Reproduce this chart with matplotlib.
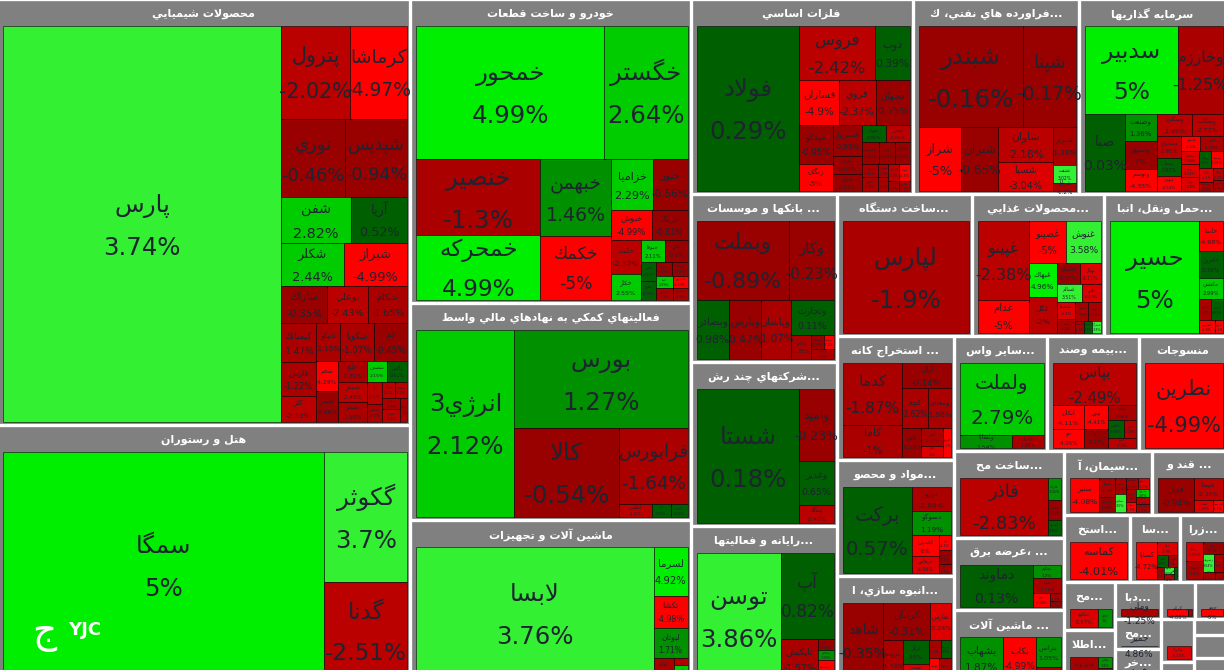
import matplotlib
matplotlib.use("Agg")
import matplotlib.pyplot as plt
from matplotlib.patches import Rectangle

plt.rcParams['font.family'] = ['DejaVu Sans']

# ---------- data: one set of small lists per sector ----------
chem_names = ["پارس","پترول","كرماشا","نوري","شپديس","شفن","آريا","شكلر","شيراز","شاراك","بوعلي","شكام","كيمياتك","فارس","كلر","نابيكو","شكوپا","جم","شجم","شيندر","خليج","شصدر","شبندر","شصدف","پاكس","آبا","شدوس","شرنگ","شلعاب","شكبير","شپاس","شگل"]
chem_pct = [3.74,-2.02,-4.97,-0.46,-0.94,2.82,0.52,2.44,-4.99,-0.35,-2.43,-1.65,-1.47,-1.22,-2.39,-1.15,-1.07,-0.45,-4.29,-0.46,-1.81,-2.48,-1.93,2.15,0.61,-2.1,-1.2,-2.7,-2.2,-1.5,-2.4,-1.1]
chem_size = [110484,6440,5405,4992,4836,3290,2632,2650,2700,1748,1520,1482,1365,1190,910,910,1280,1280,672,672,616,588,588,414,437,340,289,200,200,204,230,170]

auto_names = ["خمحور","خگستر","خنصير","خمحركه","خبهمن","خكمك","خزاميا","ختور","خبوش","خرينگ","خلنت","خكار","خنوفا","خزر","خفنر","خمهر","خوسا","خريخت","خبنا","خديزل","خموتور","خشرق"]
auto_pct = [4.99,2.64,-1.3,4.99,1.46,-5,2.29,-0.56,-4.99,-0.81,-2.37,2.55,2.11,-0.9,0.93,0.08,-0.57,-0.81,2.99,-1.1,-4.23,-1.3]
auto_size = [25000,11040,9424,8060,5467,4544,2091,1785,1200,1080,986,754,528,506,285,285,224,224,208,208,176,176]

fin_names = ["انرژي3","بورس","كالا","فرابورس","اطلس","آتيه","امين"]
fin_pct = [2.12,1.27,-0.54,-1.64,-2.6,0.28,0.61]
fin_size = [18326,16954,9345,5168,416,247,221]

mach_names = ["لابسا","لسرما","تكشا","لبوتان","لخانه","لكما","لتور"]
mach_pct = [3.76,4.92,-4.98,1.71,-1.64,-2.1,2.5]
mach_size = [31521,1666,1122,1020,420,98,196]

hotel_names = ["سمگا","گكوثر","گدنا"]
hotel_pct = [5,3.7,-2.51]
hotel_size = [73416,10873,8051]

metal_names = ["فولاد","فروس","ذوب","فسازان","فروي","فجهان","ميدكو","زنگان","فسبزوار","كوير","فنوال","فلوله","فخاس","فاسمين","فايرا","فرآور","فباهنر","فالوم","هرمز","فسرب","فنرژي","فوكا","فگستر","فلامي"]
metal_pct = [0.29,-2.42,0.39,-4.9,-2.37,-0.75,-0.95,-5,-0.93,-0.84,-0.02,0.46,-2.64,-0.06,-0.58,-0.86,-1.42,-1.7,-1.2,-1.1,-2.1,-4.4,-1.5,-1.3]
metal_size = [16830,4050,1890,1716,1628,1496,1287,891,899,522,493,408,408,374,352,330,225,225,135,135,180,180,108,108]

oil_names = ["شبندر","شپنا","شراز","شتران","شاوان","شسپا","شبريز","شنفت","شرانل"]
oil_pct = [-0.16,-0.17,-5,-0.65,-2.18,-3.04,-1.38,3.02,-1.2]
oil_size = [10504,5353,2688,2368,1925,1595,874,414,184]

inv_names = ["سدبير","وخارزم","صبا","وصنعت","واسپهر","وتوسم","وسكرد","وسكاب","وسخراج","وصنا","وبهمن","وسپهر","ونوين","ومعادن","وپويا","واتي","ونيكي","وسينا","وآذر","وساپا","وملل","وگستر"]
inv_pct = [5,-1.25,0.03,1.36,0,-4.35,-2.95,-2.72,-2.91,0.82,-4.51,-4.2,-1.93,-3.49,-3.42,-3.58,0.1,-4.01,-3.2,-1.6,-2.4,-1.9]
inv_size = [7998,3870,3002,868,868,713,756,672,504,420,357,294,340,238,238,247,195,200,180,130,110,100]

bank_names = ["وبملت","وكار","وبصادر","وپارس","وپاسار","وتجارت","وخاور","وسالت","وسينا","وآيند"]
bank_pct = [-0.89,-0.23,0.98,-0.47,-1.07,0.11,-1.35,-0.09,-4.7,-1.2]
bank_size = [7268,3476,1888,1888,1770,1470,480,168,140,220]

dast_names = ["لپارس"]
dast_pct = [-1.9]
dast_size = [13888]

food_names = ["غپينو","غدام","غصينو","غنوش","غبهاك","غگل","غشوكو","نهبال","غسالم","غالبر","غشصفا","غپاك","غمينو","غويتا","غدشت","غبشهر","غمارگ"]
food_pct = [-2.38,-5,-5,3.58,4.96,-2,-0.02,-3.11,3.51,-3.47,-3.1,-1.2,-1.18,-1.12,-1.3,0.4,3.3]
food_size = [3822,1617,1482,1365,910,936,480,440,416,320,304,256,225,225,100,100,100]

haml_names = ["حسير","حاسا","حافرين","حكشتي","حپترو","حتايد","حفارس","حريل"]
haml_pct = [5,-4.98,0.36,2.99,-1.1,0.87,-4.8,-4.2]
haml_size = [9879,720,624,504,252,252,200,100]

sher_names = ["شستا","واميد","وغدير","ومالك"]
sher_pct = [0.18,-0.23,0.65,-2.49]
sher_size = [13668,2448,1496,612]

ray_names = ["توسن","آپ","تاپكيش","رتاب","مفاخر","سيستم"]
ray_pct = [3.86,0.82,-1.57,-0.96,1.99,-4.1]
ray_size = [10584,4472,1440,176,160,304]

ext_names = ["كدما","كاما","اپال","كچاد","ومعادن","كاهي","كنور","كگل","كروي"]
ext_pct = [-1.87,-1,-0.14,-1.62,-1.96,-0.19,-1.37,-3,-4.2]
ext_size = [3658,1888,1200,1000,920,551,378,231,232]

mav_names = ["بركت","درزو","دسوكو","كاسپين","درهاوي","دلر","ديران","دعبيد"]
mav_pct = [0.57,-1.84,1.19,-5,-3.06,-4.1,-0.9,-1.5]
mav_size = [5848,936,936,567,459,165,165,99]

anb_names = ["شاهد","كرمان","ثفارس","ثروت","ثران","نهضت","ثاباد","ثنوسا","ثبهساز","ثالوند"]
anb_pct = [-0.35,-0.31,-3.24,-1.16,0.5,-3.08,-1.1,0.6,-4.2,-1.2]
anb_size = [2812,1617,693,696,551,352,192,156,208,220]

say_names = ["ولملت","ولساپا","وايران"]
say_pct = [2.79,1.54,-1.64]
say_size = [6048,676,416]

bim_names = ["بپاس","انكان","بنو","ودي","دانا","ملت","حكمت","البرز","آسيا"]
bim_pct = [-2.49,-4.11,-4.95,-4.41,-0.17,-1.66,0.98,-2.04,-2.2]
bim_size = [3486,744,589,576,456,408,288,228,272]

man_names = ["نطرين"]
man_pct = [-4.99]
man_size = [6630]

sak_names = ["فاذر","فاراك","فالاس","فساوه"]
sak_pct = [-2.83,1.06,-0.32,0.98]
sak_size = [5016,286,260,195]

arz_names = ["دماوند","بجكيم","بمپنا","بنيرو","بكام","بالاس"]
arz_pct = [0.13,1.2,-1.11,-4.08,-1.2,-0.9]
arz_size = [2952,350,375,224,90,60]

ma2_names = ["بشهاب","بكاب","بترانس","بسويچ"]
ma2_pct = [1.87,-4.99,1.05,-1]
ma2_size = [1849,1419,775,300]

sim_names = ["سنير","سخوز","سشمال","سفار","سكرد","سهگمت","سيلام","سدور","سقاين","سبزوا","ساروم","سمازن"]
sim_pct = [-4.08,-1.17,-0.96,-1.2,3.5,-1.3,-3.2,-1.4,-4.2,2.6,-2.1,-1.7]
sim_size = [918,285,225,168,182,126,120,130,100,90,90,90]

qan_names = ["قجار","قنيشا","قشكر","قلرست"]
qan_pct = [-0.94,-2.26,-3.84,-4.1]
qan_size = [1224,638,228,120]

est_names = ["كماسه"]
est_pct = [-4.01]
est_size = [2035]

saa_names = ["كساپا","كنگا","كفرا","كهمدا","كرازي","كلوند","كسرا","كبافق"]
saa_pct = [-4.72,-3.9,0.9,-1,-1,3.5,-2,0.5]
saa_size = [740,231,121,110,70,63,49,35]

zer_names = ["زشام","زميدا","زبينا","زشريف","زپارس","زفجر","زكشت"]
zer_pct = [-3.63,-1.9,-0.9,3.64,-1,-1.2,-1.5]
zer_size = [323,306,240,200,160,90,60]

moh_names = ["چكاوه","چكاو"]
moh_pct = [-3.67,1]
moh_size = [540,280]

eta_names = ["هاي وب","مخابر","اتكام"]
eta_pct = [-1.26,1.9,-1]
eta_size = [650,160,160]

dab_names = ["وملي"]
dab_pct = [-1.25]
dab_size = [216]

mo2_names = ["جمير"]
mo2_pct = [4.86]
mo2_size = [40]

kha_names = ["خريد"]
kha_pct = [-2]
kha_size = [30]

kar_names = ["كرام","كرمت"]
kar_pct = [-4.88,-1]
kar_size = [130,20]

haj_names = ["حجر"]
haj_pct = [-5]
haj_size = [165]

mad_names = ["ماديرا"]
mad_pct = [-3.23]
mad_size = [120]

saz_names = ["ساروج"]
saz_pct = [-2]
saz_size = [10]

emp_names = []
emp_pct = []
emp_size = []

sector_titles = ["محصولات شيميايي","هتل و رستوران","خودرو و ساخت قطعات","فعاليتهاي كمكي به نهادهاي مالي واسط","ماشين آلات و تجهيزات",
 "فلزات اساسي","...فراورده هاي نفتي، ك","سرمايه گذاريها","... بانكها و موسسات","...شركتهاي چند رش","...رايانه و فعاليتها",
 "...ساخت دستگاه","...محصولات غذايي","...حمل ونقل، انبا","... استخراج كانه","...مواد و محصو","...انبوه سازي، ا",
 "...ساير واس","...بيمه وصند","منسوجات","...ساخت مح","... ،عرضه برق","... ماشين آلات","...سيمان، آ","... قند و",
 "...استخ","...سا","...زرا","...مح","...اطلا","...دبا","...مح","...خر","","","","...سا","","",""]
sector_sizes = [175938,106141,85120,60760,45360,43290,32370,28665,24528,23944,22776,19170,18744,17324,14508,13572,12402,
 10695,10580,10005,9570,7920,7920,5632,4736,4422,3350,3082,2448,2652,1702,1380,1518,1250,1152,1420,640,512,768,768]
sector_names = [chem_names,hotel_names,auto_names,fin_names,mach_names,metal_names,oil_names,inv_names,bank_names,sher_names,ray_names,
 dast_names,food_names,haml_names,ext_names,mav_names,anb_names,say_names,bim_names,man_names,sak_names,arz_names,ma2_names,sim_names,qan_names,
 est_names,saa_names,zer_names,moh_names,eta_names,dab_names,mo2_names,kha_names,kar_names,haj_names,mad_names,saz_names,emp_names,emp_names,emp_names]
sector_pcts = [chem_pct,hotel_pct,auto_pct,fin_pct,mach_pct,metal_pct,oil_pct,inv_pct,bank_pct,sher_pct,ray_pct,
 dast_pct,food_pct,haml_pct,ext_pct,mav_pct,anb_pct,say_pct,bim_pct,man_pct,sak_pct,arz_pct,ma2_pct,sim_pct,qan_pct,
 est_pct,saa_pct,zer_pct,moh_pct,eta_pct,dab_pct,mo2_pct,kha_pct,kar_pct,haj_pct,mad_pct,saz_pct,emp_pct,emp_pct,emp_pct]
sector_vals = [chem_size,hotel_size,auto_size,fin_size,mach_size,metal_size,oil_size,inv_size,bank_size,sher_size,ray_size,
 dast_size,food_size,haml_size,ext_size,mav_size,anb_size,say_size,bim_size,man_size,sak_size,arz_size,ma2_size,sim_size,qan_size,
 est_size,saa_size,zer_size,moh_size,eta_size,dab_size,mo2_size,kha_size,kar_size,haj_size,mad_size,saz_size,emp_size,emp_size,emp_size]

# ---------- Arabic shaping (matplotlib has no text shaper) ----------
FORMS = {'ا':(0xFE8D,0xFE8E),'آ':(0xFE81,0xFE82),'أ':(0xFE83,0xFE84),'د':(0xFEA9,0xFEAA),'ذ':(0xFEAB,0xFEAC),'ر':(0xFEAD,0xFEAE),
 'ز':(0xFEAF,0xFEB0),'ژ':(0xFB8A,0xFB8B),'و':(0xFEED,0xFEEE),'ة':(0xFE93,0xFE94)}
FOUR = {'ب':0xFE8F,'پ':0xFB56,'ت':0xFE95,'ث':0xFE99,'ج':0xFE9D,'چ':0xFB7A,'ح':0xFEA1,'خ':0xFEA5,'س':0xFEB1,'ش':0xFEB5,'ص':0xFEB9,
 'ض':0xFEBD,'ط':0xFEC1,'ظ':0xFEC5,'ع':0xFEC9,'غ':0xFECD,'ف':0xFED1,'ق':0xFED5,'ك':0xFED9,'ک':0xFB8E,'گ':0xFB92,'ل':0xFEDD,'م':0xFEE1,
 'ن':0xFEE5,'ه':0xFEE9,'ي':0xFEF1,'ی':0xFBFC,'ئ':0xFE89}

def shape(s):
    out = []
    i = 0
    n = len(s)
    prev_joins = False
    while i < n:
        c = s[i]
        nxt = s[i + 1] if i + 1 < n else ''
        if c == 'ل' and nxt in 'اآ' and nxt:
            base = 0xFEFB if nxt == 'ا' else 0xFEF5
            out.append(chr(base + (1 if prev_joins else 0)))
            prev_joins = False
            i += 2
            continue
        if c in FOUR:
            next_ok = nxt in FOUR or nxt in FORMS
            b = FOUR[c]
            code = b + (3 if prev_joins and next_ok else 1 if prev_joins else 2 if next_ok else 0)
            out.append(chr(code))
            prev_joins = next_ok
        elif c in FORMS:
            out.append(chr(FORMS[c][1 if prev_joins else 0]))
            prev_joins = False
        else:
            out.append(c)
            prev_joins = False
        i += 1
    return ''.join(reversed(out))

# ---------- squarified layout ----------
def worst(row, side):
    s = sum(row)
    return max(max(side * side * r / (s * s), s * s / (side * side * r)) for r in row)

def squarify(vals, x, y, w, h):
    rects = []
    total = sum(vals)
    if total <= 0 or w <= 0 or h <= 0:
        return [(x, y, 0, 0) for _ in vals]
    k = w * h / total
    areas = [v * k for v in vals]
    i = 0
    while i < len(areas):
        side = min(w, h)
        row = [areas[i]]
        j = i + 1
        while j < len(areas) and worst(row + [areas[j]], side) <= worst(row, side):
            row.append(areas[j])
            j += 1
        s = sum(row)
        if w < h:            # row across the top
            t = s / w
            cx = x
            for r in row:
                rects.append((cx, y, r / t, t))
                cx += r / t
            y += t
            h -= t
        else:                # column down the left
            t = s / h
            cy = y
            for r in row:
                rects.append((x, cy, t, r / t))
                cy += r / t
            x += t
            w -= t
        i = j
    return rects

def colour(p):
    if p >= 4: return '#00EE00'
    if p >= 3: return '#33F033'
    if p >= 2: return '#00CC00'
    if p >= 1: return '#009000'
    if p > 0:  return '#005F00'
    if p > -1: return '#990000'
    if p > -2: return '#AA0000'
    if p > -3: return '#BB0000'
    if p > -4: return '#DD0000'
    return '#FF0000'

def text_scale(w, h):
    s = max(0.14, min(1.0, 0.0110 * (w * h) ** 0.5 - 0.04))
    if h < 9:
        s = max(s, w / 100)
    return s

# ---------- drawing ----------
fig = plt.figure(figsize=(12.24, 6.70), dpi=100, facecolor='white')
ax = fig.add_axes([0, 0, 1, 1])
ax.set_xlim(0, 1224)
ax.set_ylim(670, 0)
ax.axis('off')

TOTAL = (-1, 1, 1229, 683)
GAP = 4
HEAD = 25
MAXFS = 17.6
TXT = '#1E2430'

for sx, sy, sw, sh, title, names, pcts, vals in (
        (r + (sector_titles[i], sector_names[i], sector_pcts[i], sector_vals[i]))
        for i, r in enumerate(squarify(sector_sizes, *TOTAL))):
    ow, oh = sw - GAP, sh - GAP
    ax.add_patch(Rectangle((sx, sy), ow, oh, fc='#808080', ec='#8c8c8c', lw=0.6, zorder=1))
    if title:
        ax.text(sx + ow / 2, sy + 13, shape(title), color='white', fontsize=8, fontweight='bold',
                ha='center', va='center', zorder=5, clip_on=True)
    ix, iy, iw, ih = sx + 4, sy + HEAD, ow - 5, oh - HEAD - 1
    if not names or ih <= 0:
        continue
    for (x, y, w, h), nm, p in zip(squarify(vals, ix, iy, iw, ih), names, pcts):
        ax.add_patch(Rectangle((x, y), w, h, fc=colour(p), ec=(0, 0, 0, 0.55), lw=0.7, zorder=2))
        fs = text_scale(w, h) * MAXFS
        em = fs * 100 / 72
        cx, cy = x + w / 2, y + h / 2
        ax.text(cx, cy - 0.5 * em, shape(nm), color=TXT, fontsize=fs, ha='center', va='baseline', zorder=3)
        ax.text(cx, cy + 1.25 * em, f"{p:g}%", color=TXT, fontsize=fs, ha='center', va='baseline', zorder=3)

# watermark
ax.text(44, 642, shape("ج"), color='white', fontsize=27, ha='center', va='baseline', zorder=6)
ax.text(85, 630, "YJC", color='white', fontsize=13, fontweight='bold', ha='center', va='center', zorder=6)

fig.savefig('out.png', dpi=100, facecolor='white')
